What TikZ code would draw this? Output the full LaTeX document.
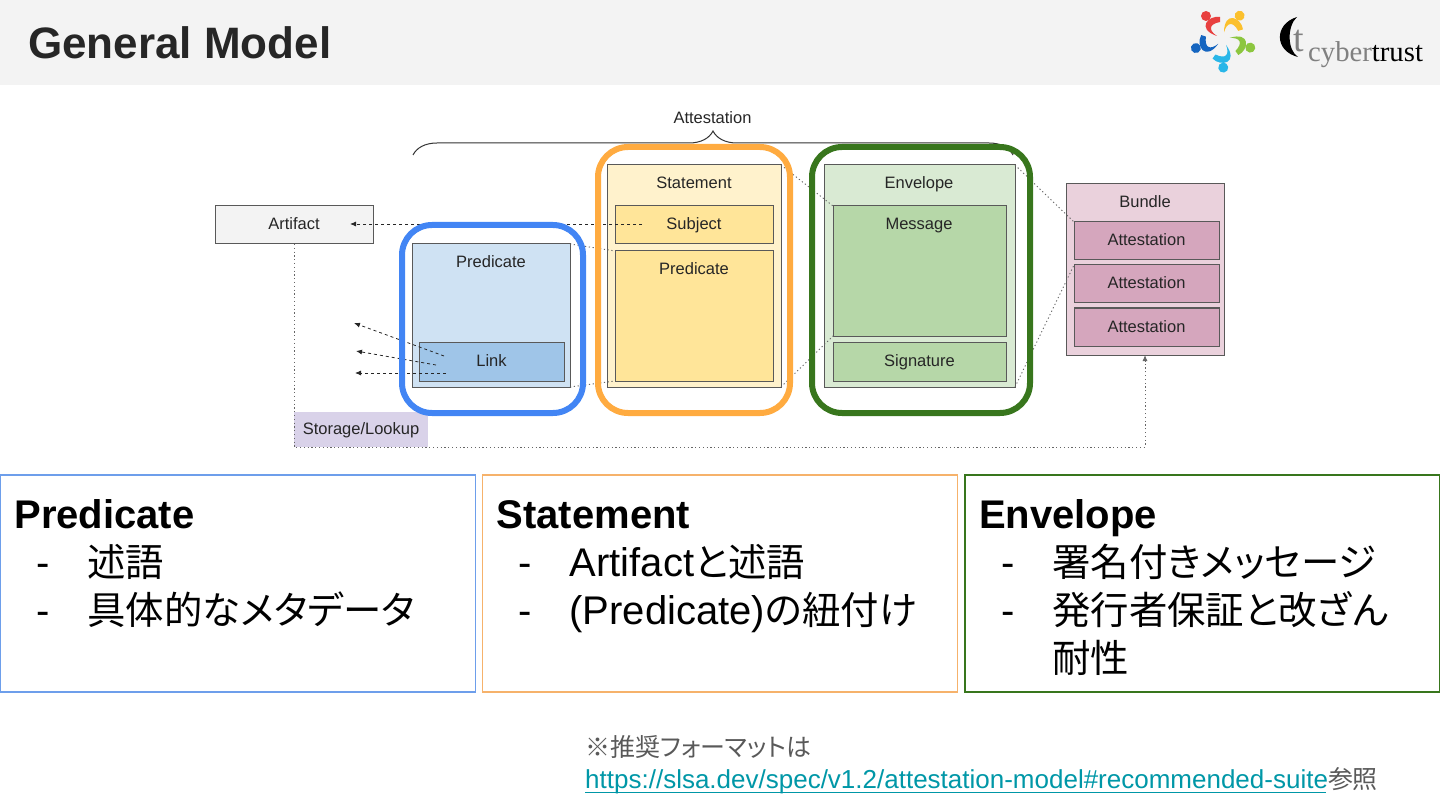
\documentclass[tikz,border=0pt]{standalone}
\usepackage{xcolor}
\usepackage{fontspec}
\setmainfont{Liberation Sans}
\newfontfamily\cjk[RawFeature=+palt,Scale=0.96]{Noto Sans CJK JP}
\newfontfamily\logofont{Liberation Serif}
\usepackage{tikz}
\usetikzlibrary{arrows.meta, positioning, calc, decorations.pathreplacing}

\definecolor{headgray}{HTML}{F3F3F3}
\definecolor{ringblue}{HTML}{4285F4}
\definecolor{ringorange}{HTML}{FFAB40}
\definecolor{ringgreen}{HTML}{38761D}
\definecolor{panelblue}{HTML}{6D9EEB}
\definecolor{panelorange}{HTML}{F6B26B}
\definecolor{linkteal}{HTML}{0097A7}
\definecolor{notegray}{HTML}{595959}
\definecolor{predfill}{HTML}{CFE2F3}
\definecolor{linkfill}{HTML}{9FC5E8}
\definecolor{stmtfill}{HTML}{FFF2CC}
\definecolor{subjfill}{HTML}{FFE599}
\definecolor{envfill}{HTML}{D9EAD3}
\definecolor{msgfill}{HTML}{B6D7A8}
\definecolor{bundfill}{HTML}{EAD1DC}
\definecolor{attfill}{HTML}{D5A6BD}
\definecolor{storefill}{HTML}{D9D2E9}

\newcommand{\paneltitle}[1]{{\rmfamily\bfseries\rule{0pt}{32pt}#1}}
\newcommand{\dashline}[1]{\hspace*{22pt}\makebox[51pt][l]{\rmfamily -}#1}

\tikzset{
  box/.style={draw=black!65, line width=1pt, outer sep=0pt, inner sep=0pt, text=black!85, text height=13pt, text depth=3pt, font=\fontsize{16.5}{18}\selectfont},
  tag/.style={inner sep=0pt, text=black!85, text height=13pt, text depth=3pt, font=\fontsize{16.5}{18}\selectfont},
  ring/.style={draw, line width=6pt, rounded corners=30pt, inner sep=0pt},
  panel/.style={draw, line width=1.5pt, outer sep=0pt, minimum width=475pt, minimum height=217pt},
  paneltext/.style={anchor=north west, align=left, inner sep=0pt, xshift=14pt, yshift=-21pt, font=\cjk\fontsize{40}{48}\selectfont},
  dotline/.style={black!60, line width=.9pt, dash pattern=on 1.2pt off 2.6pt},
  dashline/.style={dashed, black!85, line width=.8pt, -{Latex[length=6pt,width=5pt]}},
}

\begin{document}
\begin{tikzpicture}[x=1pt,y=-1pt]
  \useasboundingbox (0,0) rectangle (1440,810);

  % header
  \fill[headgray] (0,0) rectangle (1440,85);
  \node[anchor=base west, inner sep=0pt, text=black!85, font=\bfseries\fontsize{44}{48}\selectfont] (title) at (28,59) {General Model};

  % left logo
  \foreach \turn/\col in {0/E8403F, 1/FBC02D, 2/8CC63F, 3/29B6E8, 4/1565C0} {
    \begin{scope}[shift={(1223,39)}, rotate=-72*\turn]
      \definecolor{petal}{HTML}{\col}
      \fill[petal] (-17,-23) circle[radius=5];
      \fill[petal] (-3,-22) .. controls (-15,-24) and (-27,-10) .. (-6,-3) .. controls (-15,-9) and (-14,-15) .. (-3,-17) -- cycle;
    \end{scope}
  }

  % right logo
  \fill[black] (1297,17) .. controls (1274,24) and (1274,51) .. (1298,57) .. controls (1287,50) and (1287,26) .. (1297,17);
  \node[anchor=base west, inner sep=0pt, text=black!50, font=\logofont\fontsize{38}{38}\selectfont] (logot) at (1293,52) {t};
  \node[anchor=base west, inner sep=0pt, font=\logofont\fontsize{28.7}{29}\selectfont] (logoname) at (1308,62) {\textcolor{black!50}{cyber}\textcolor{black}{trust}};

  % diagram boxes
  \node[box, fill=headgray, minimum width=158pt, minimum height=38pt] (artifact) at (294,225) {Artifact};
  \node[box, fill=predfill, minimum width=158pt, minimum height=143pt] (predicate) at (491,315.5) {};
  \node[tag] (predicatelbl) at (491,263) {Predicate};
  \node[box, fill=linkfill, minimum width=145pt, minimum height=39pt] (link) at (491.5,361.5) {Link};

  \node[box, fill=stmtfill, minimum width=173.5pt, minimum height=222pt] (statement) at (694.25,276) {};
  \node[tag] (statementlbl) at (694,184) {Statement};
  \node[box, fill=subjfill, minimum width=158pt, minimum height=38pt] (subject) at (694,225) {Subject};
  \node[box, fill=subjfill, minimum width=158pt, minimum height=130pt] (stmtpred) at (694,316) {};
  \node[tag] (stmtpredlbl) at (694,270) {Predicate};

  \node[box, fill=envfill, minimum width=190.5pt, minimum height=222pt] (envelope) at (919.75,276) {};
  \node[tag] (envelopelbl) at (919,184) {Envelope};
  \node[box, fill=msgfill, minimum width=173pt, minimum height=130pt] (message) at (919.5,271) {};
  \node[tag] (messagelbl) at (919,225) {Message};
  \node[box, fill=msgfill, minimum width=173pt, minimum height=39pt] (signature) at (919.5,361.5) {Signature};

  \node[box, fill=bundfill, minimum width=158pt, minimum height=171pt] (bundle) at (1145,269.5) {};
  \node[tag] (bundlelbl) at (1145,203) {Bundle};
  \node[box, fill=attfill, minimum width=145pt, minimum height=38pt] (attestone) at (1146.5,241) {Attestation};
  \node[box, fill=attfill, minimum width=145pt, minimum height=38pt] (attesttwo) at (1146.5,284) {Attestation};
  \node[box, fill=attfill, minimum width=145pt, minimum height=38pt] (attestthree) at (1146.5,327) {Attestation};

  \node[tag, fill=storefill, minimum width=134pt, minimum height=35pt, outer sep=0pt] (storage) at (361,429.5) {Storage/Lookup};

  % loose ends of the dashed arrows
  \coordinate (subjectfrom) at (642,224);
  \coordinate (artifactto) at (350,224);
  \coordinate (linkfromA) at (444,356);
  \coordinate (linktoA) at (354,323);
  \coordinate (linkfromB) at (436,365);
  \coordinate (linktoB) at (356,351);
  \coordinate (linkfromC) at (446,373);
  \coordinate (linktoC) at (355,373);

  % connectors
  \draw[dotline] (predicate.north east) -- (stmtpred.north west);
  \draw[dotline] (predicate.south east) -- (stmtpred.south west);
  \draw[dotline] (statement.north east) -- (message.north west);
  \draw[dotline] (statement.south east) -- (message.south west);
  \draw[dotline] (envelope.north east) -- (attestone.north west);
  \draw[dotline] (envelope.south east) -- (attesttwo.north west);
  \draw[dotline, -{Latex[length=6pt,width=5pt]}] (artifact.south) -- (storage.south west) -- (storage.south west -| bundle.south) -- (bundle.south);
  \draw[dashline] (subjectfrom) -- (artifactto);
  \draw[dashline] (linkfromA) -- (linktoA);
  \draw[dashline] (linkfromB) -- (linktoB);
  \draw[dashline] (linkfromC) -- (linktoC);

  % attestation brace
  \coordinate (braceleft) at (413,155);
  \coordinate (braceright) at (1013,155);
  \draw[black!80, line width=1pt, decorate, decoration={brace, amplitude=24pt}] (braceleft) -- (braceright);
  \node[tag] (attestlbl) at (712.5,119) {Attestation};

  % coloured rings
  \node[ring, draw=ringblue, minimum width=181pt, minimum height=188pt] (predring) at (492.5,319) {};
  \node[ring, draw=ringorange, minimum width=192pt, minimum height=266pt] (stmtring) at (694,280) {};
  \node[ring, draw=ringgreen, minimum width=218pt, minimum height=266pt] (envring) at (921,280) {};

  % panels
  \node[panel, draw=panelblue] (predpanel) at (237.75,583.5) {};
  \node[paneltext] (predtext) at (predpanel.north west) {\paneltitle{Predicate}\\
    \dashline{述語}\\
    \dashline{具体的なメタデータ}};
  \node[panel, draw=panelorange] (stmtpanel) at (720,583.5) {};
  \node[paneltext] (stmttext) at (stmtpanel.north west) {\paneltitle{Statement}\\
    \dashline{{\rmfamily Artifact}と述語}\\
    \dashline{{\rmfamily (Predicate)}の紐付け}};
  \node[panel, draw=ringgreen] (envpanel) at (1202.5,583.5) {};
  \node[paneltext] (envtext) at (envpanel.north west) {\paneltitle{Envelope}\\
    \dashline{署名付きメッセージ}\\
    \dashline{発行者保証と改ざん}\\
    \hspace*{73pt}耐性};

  % note
  \node[anchor=north west, align=left, inner sep=0pt, text=notegray, font=\fontsize{26}{32}\selectfont] (note) at (585,735) {{\cjk ※推奨フォーマットは}\\
    \textcolor{linkteal}{\rlap{\rule[-5pt]{741pt}{1.6pt}}https://slsa.dev/spec/v1.2/attestation-model\#recommended-suite}{\cjk 参照}};
\end{tikzpicture}
\end{document}
